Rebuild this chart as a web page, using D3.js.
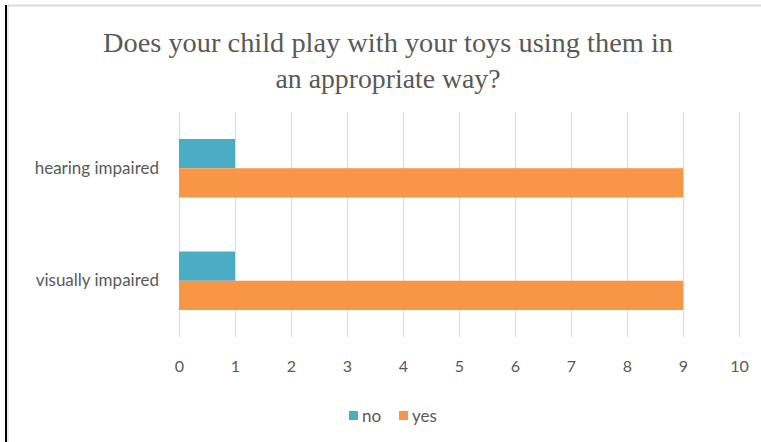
<!DOCTYPE html>
<html><head><meta charset="utf-8">
<script src="https://cdn.jsdelivr.net/npm/d3@7"></script>
<style>body{margin:0;background:#fff}svg{display:block}</style>
</head><body>
<svg id="c" width="761" height="442"></svg>
<script>
const title = ["Does your child play with your toys using them in", "an appropriate way?"];
const categories = ["hearing impaired", "visually impaired"];
const seriesNames = ["no", "yes"];
const noValues = [1, 1];
const yesValues = [9, 9];
const tickValues = [0,1,2,3,4,5,6,7,8,9,10];
const colors = ["#4BACC6", "#F79646"];

const svg = d3.select("#c");
// frame
svg.append("line").attr("x1",8).attr("x2",761).attr("y1",5.5).attr("y2",5.5).attr("stroke","#d9d9d9").attr("stroke-width",2);
svg.append("line").attr("x1",8).attr("x2",8).attr("y1",5).attr("y2",442).attr("stroke","#d9d9d9").attr("stroke-width",1);
svg.append("line").attr("x1",6).attr("x2",6).attr("y1",5).attr("y2",442).attr("stroke","#000").attr("stroke-width",2);

// title
const tw = [570, 225];
title.forEach((t,i)=>{
  svg.append("text").attr("x",388).attr("y", i===0 ? 52 : 88)
    .attr("text-anchor","middle").attr("font-family","Liberation Serif")
    .attr("font-size",28).attr("fill","#595959")
    .attr("textLength", tw[i]).attr("lengthAdjust","spacingAndGlyphs")
    .text(t);
});

const x = d3.scaleLinear().domain([0,10]).range([179,739]);
const y = d3.scaleBand().domain(categories).range([112,337]).paddingInner(0.48).paddingOuter(0.24);
const sub = d3.scaleBand().domain(seriesNames).range([0, y.bandwidth()]);

// gridlines
svg.append("g").selectAll("line").data(tickValues).join("line")
  .attr("x1",d=>x(d)+0.5).attr("x2",d=>x(d)+0.5).attr("y1",112).attr("y2",337)
  .attr("stroke","#d9d9d9").attr("stroke-width",1);

const data = categories.map((c,i)=>({cat:c, vals:[noValues[i], yesValues[i]]}));
const g = svg.append("g");
data.forEach(d=>{
  d.vals.forEach((v,j)=>{
    g.append("rect").attr("x",x(0)).attr("y",y(d.cat)+sub(seriesNames[j]))
      .attr("width",x(v)-x(0)).attr("height",sub.bandwidth()).attr("fill",colors[j]);
  });
});

// x axis labels
const xAxis = d3.axisBottom(x).tickValues(tickValues).tickSize(0).tickPadding(0);
const ax = svg.append("g").attr("transform","translate(0,361)").call(xAxis);
ax.select(".domain").remove();
ax.selectAll("text").attr("font-family","Lato").attr("font-size",16).attr("fill","#595959").attr("dy","0.71em");

// y labels
const yAxis = d3.axisLeft(y).tickSize(0).tickPadding(0);
const ay = svg.append("g").attr("transform","translate(159,0)").call(yAxis);
ay.select(".domain").remove();
ay.selectAll("text").attr("font-family","Lato").attr("font-size",17).attr("fill","#595959");

// legend
const leg = svg.append("g").attr("transform","translate(349,411)");
const lx = [0, 50];
seriesNames.forEach((s,i)=>{
  leg.append("rect").attr("x",lx[i]).attr("y",0).attr("width",9).attr("height",9).attr("fill",colors[i]);
  leg.append("text").attr("x",lx[i]+13).attr("y",5).attr("dy","0.35em")
    .attr("font-family","Lato").attr("font-size",17).attr("fill","#595959").text(s);
});
</script>
</body></html>
